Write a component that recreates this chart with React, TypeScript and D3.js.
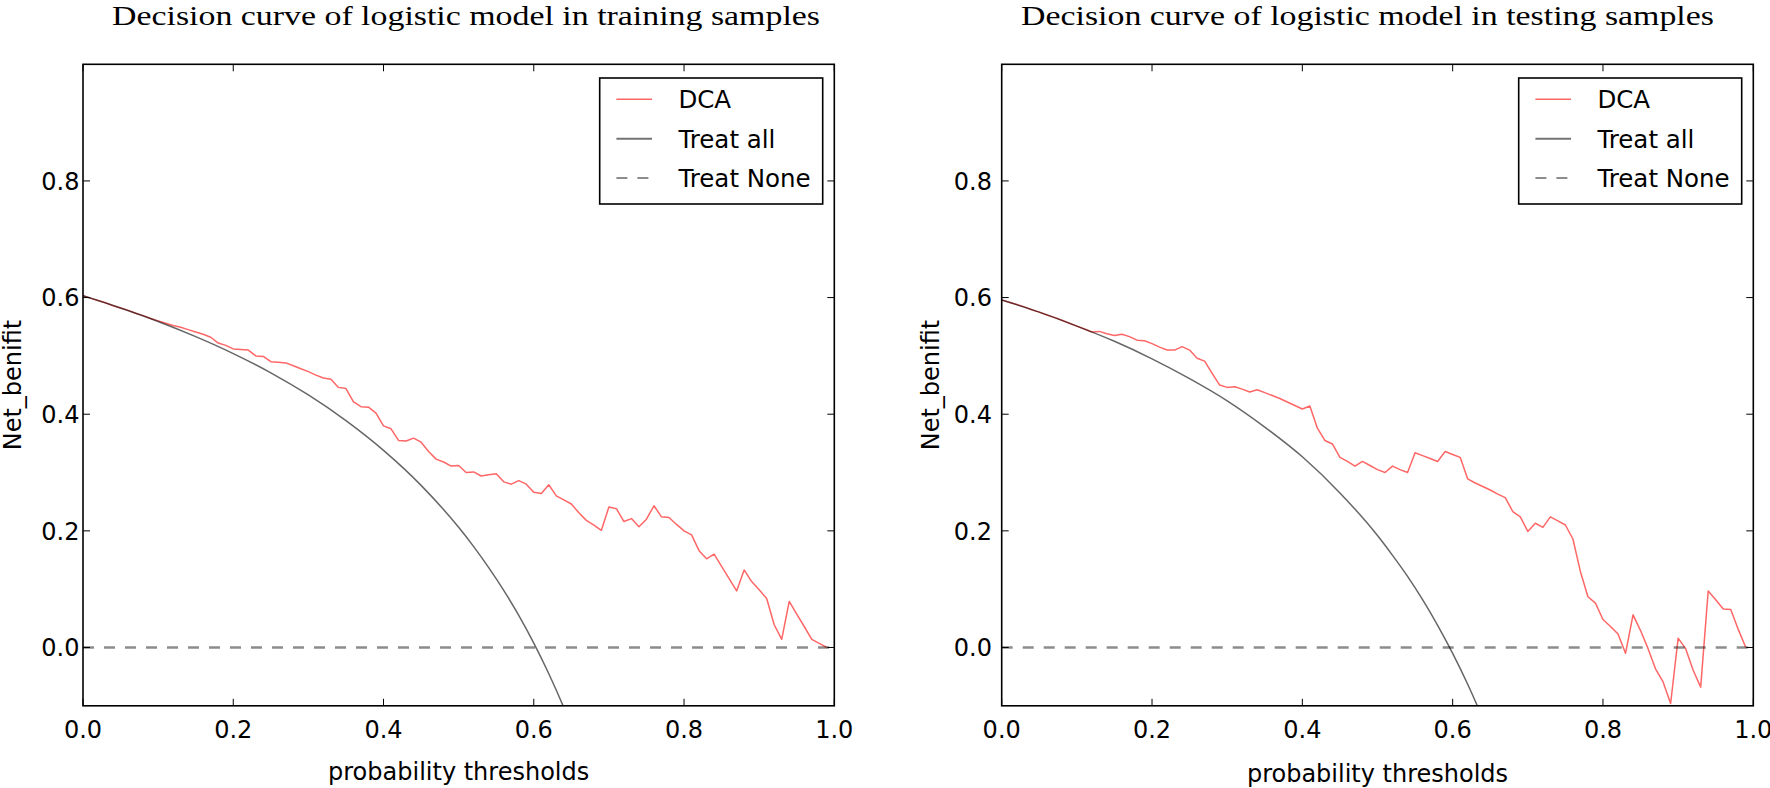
import React from "react";
import * as d3 from "d3";

// ---------- data ----------
const thresholds = [
  0.0, 0.01, 0.02, 0.03, 0.04, 0.05, 0.06, 0.07, 0.08, 0.09,
  0.1, 0.11, 0.12, 0.13, 0.14, 0.15, 0.16, 0.17, 0.18, 0.19,
  0.2, 0.21, 0.22, 0.23, 0.24, 0.25, 0.26, 0.27, 0.28, 0.29,
  0.3, 0.31, 0.32, 0.33, 0.34, 0.35, 0.36, 0.37, 0.38, 0.39,
  0.4, 0.41, 0.42, 0.43, 0.44, 0.45, 0.46, 0.47, 0.48, 0.49,
  0.5, 0.51, 0.52, 0.53, 0.54, 0.55, 0.56, 0.57, 0.58, 0.59,
  0.6, 0.61, 0.62, 0.63, 0.64, 0.65, 0.66, 0.67, 0.68, 0.69,
  0.7, 0.71, 0.72, 0.73, 0.74, 0.75, 0.76, 0.77, 0.78, 0.79,
  0.8, 0.81, 0.82, 0.83, 0.84, 0.85, 0.86, 0.87, 0.88, 0.89,
  0.9, 0.91, 0.92, 0.93, 0.94, 0.95, 0.96, 0.97, 0.98, 0.99,
];

const trainDCA = [
  0.603, 0.599, 0.595, 0.591, 0.586, 0.582, 0.578, 0.573, 0.569, 0.564,
  0.560, 0.556, 0.552, 0.549, 0.545, 0.541, 0.537, 0.532, 0.522, 0.518,
  0.512, 0.511, 0.510, 0.500, 0.499, 0.490, 0.489, 0.488, 0.483, 0.478,
  0.473, 0.467, 0.462, 0.460, 0.446, 0.444, 0.421, 0.413, 0.412, 0.402,
  0.380, 0.375, 0.355, 0.354, 0.359, 0.352, 0.336, 0.323, 0.318, 0.311,
  0.312, 0.300, 0.301, 0.294, 0.296, 0.298, 0.284, 0.280, 0.286, 0.280,
  0.266, 0.264, 0.279, 0.260, 0.253, 0.246, 0.231, 0.218, 0.210, 0.201,
  0.241, 0.238, 0.216, 0.221, 0.207, 0.220, 0.243, 0.224, 0.223, 0.211,
  0.200, 0.193, 0.166, 0.152, 0.160, 0.139, 0.118, 0.097, 0.133, 0.113,
  0.099, 0.084, 0.039, 0.014, 0.079, 0.057, 0.036, 0.014, 0.007, 0.0,
];

const testDCA = [
  0.596, 0.592, 0.588, 0.584, 0.579, 0.575, 0.570, 0.566, 0.561, 0.556,
  0.551, 0.546, 0.541, 0.542, 0.538, 0.535, 0.537, 0.533, 0.527, 0.526,
  0.521, 0.515, 0.510, 0.510, 0.516, 0.510, 0.496, 0.491, 0.470, 0.450,
  0.446, 0.447, 0.443, 0.438, 0.442, 0.437, 0.432, 0.427, 0.421, 0.415,
  0.409, 0.414, 0.376, 0.355, 0.349, 0.326, 0.319, 0.311, 0.319, 0.312,
  0.305, 0.300, 0.311, 0.305, 0.300, 0.334, 0.329, 0.324, 0.319, 0.336,
  0.331, 0.326, 0.289, 0.282, 0.276, 0.270, 0.263, 0.257, 0.233, 0.224,
  0.199, 0.213, 0.206, 0.224, 0.217, 0.210, 0.186, 0.130, 0.087, 0.076,
  0.048, 0.036, 0.023, -0.010, 0.056, 0.029, -0.002, -0.037, -0.059, -0.096,
  0.016, -0.002, -0.039, -0.068, 0.097, 0.082, 0.066, 0.065, 0.031, 0.0,
];

const treatAllThresholds = [
  0.0, 0.05, 0.1, 0.15, 0.2, 0.25, 0.3, 0.35, 0.4, 0.45, 0.5,
  0.52, 0.54, 0.56, 0.58, 0.6, 0.62, 0.64, 0.66,
];
const trainTreatAll = [
  0.603, 0.582, 0.559, 0.533, 0.504, 0.471, 0.433, 0.389, 0.338, 0.278, 0.206,
  0.173, 0.137, 0.098, 0.055, 0.0075, -0.045, -0.103, -0.168,
];
const testTreatAll = [
  0.596, 0.575, 0.551, 0.525, 0.495, 0.461, 0.423, 0.378, 0.327, 0.265, 0.192,
  0.158, 0.122, 0.082, 0.038, -0.010, -0.063, -0.122, -0.188,
];

const xTicks = [0.0, 0.2, 0.4, 0.6, 0.8, 1.0];
const yTicks = [0.0, 0.2, 0.4, 0.6, 0.8];
const legendLabels = ["DCA", "Treat all", "Treat None"];
const panelTitles = [
  "Decision curve of logistic model in training samples",
  "Decision curve of logistic model in testing samples",
];
const xLabel = "probability thresholds";
const yLabel = "Net_benifit";

// ---------- layout ----------
const W = 1770;
const H = 788;
const SANS = "'DejaVu Sans', sans-serif";
const SERIF = "'Liberation Serif', 'DejaVu Serif', serif";
const FS = 24;

type PanelProps = {
  id: string;
  x0: number;
  x1: number;
  title: string;
  titleX0: number;
  titleX1: number;
  tickGap: number;
  xLabelY: number;
  yLabelX: number;
  dca: number[];
  treatAll: number[];
};

function Panel(p: PanelProps) {
  const y0 = 64.3;
  const y1 = 705.8;
  const x = d3.scaleLinear().domain([0, 1]).range([p.x0, p.x1]);
  const y = d3.scaleLinear().domain([-0.1, 1.0]).range([y1, y0]);

  const dcaLine = d3
    .line<number>()
    .x((_, i) => x(thresholds[i]))
    .y((d) => y(d));
  const allLine = d3
    .line<number>()
    .x((_, i) => x(treatAllThresholds[i]))
    .y((d) => y(d))
    .curve(d3.curveMonotoneX);

  const tick = 7;
  const legW = 223;
  const legX1 = p.x1 - 11.6;
  const legX0 = legX1 - legW;
  const legY0 = 78;
  const legY1 = 204;
  const rows = [99.3, 138.7, 178];

  return (
    <g>
      <defs>
        <clipPath id={`clip-${p.id}`}>
          <rect x={p.x0} y={y0} width={p.x1 - p.x0} height={y1 - y0} />
        </clipPath>
      </defs>
      <text
        x={(p.titleX0 + p.titleX1) / 2}
        y={25}
        textAnchor="middle"
        fontFamily={SERIF}
        fontSize={27.5}
        textLength={p.titleX1 - p.titleX0}
        lengthAdjust="spacingAndGlyphs"
        fill="#000"
      >
        {p.title}
      </text>

      <g clipPath={`url(#clip-${p.id})`}>
        <path
          d={dcaLine(p.dca) || ""}
          fill="none"
          stroke="red"
          strokeOpacity={0.6}
          strokeWidth={1.5}
          strokeLinejoin="round"
        />
        <path
          d={allLine(p.treatAll) || ""}
          fill="none"
          stroke="black"
          strokeOpacity={0.6}
          strokeWidth={1.5}
        />
        <line
          x1={x(0)}
          x2={x(1)}
          y1={y(0)}
          y2={y(0)}
          stroke="black"
          strokeOpacity={0.45}
          strokeWidth={2.5}
          strokeDasharray="11 10"
        />
      </g>

      {/* frame */}
      <rect
        x={p.x0}
        y={y0}
        width={p.x1 - p.x0}
        height={y1 - y0}
        fill="none"
        stroke="#000"
        strokeWidth={1.6}
      />

      {/* ticks */}
      {xTicks.map((t) => (
        <g key={`xt${t}`}>
          <line x1={x(t)} x2={x(t)} y1={y1} y2={y1 - tick} stroke="#000" strokeWidth={1} />
          <line x1={x(t)} x2={x(t)} y1={y0} y2={y0 + tick} stroke="#000" strokeWidth={1} />
          <text
            x={x(t)}
            y={738}
            textAnchor="middle"
            fontFamily={SANS}
            fontSize={FS}
            fill="#000"
          >
            {t.toFixed(1)}
          </text>
        </g>
      ))}
      {yTicks.map((t) => (
        <g key={`yt${t}`}>
          <line x1={p.x0} x2={p.x0 + tick} y1={y(t)} y2={y(t)} stroke="#000" strokeWidth={1} />
          <line x1={p.x1} x2={p.x1 - tick} y1={y(t)} y2={y(t)} stroke="#000" strokeWidth={1} />
          <text
            x={p.x0 - p.tickGap}
            y={y(t) + 8.7}
            textAnchor="end"
            fontFamily={SANS}
            fontSize={FS}
            fill="#000"
          >
            {t.toFixed(1)}
          </text>
        </g>
      ))}

      {/* axis labels */}
      <text
        x={(p.x0 + p.x1) / 2}
        y={p.xLabelY}
        textAnchor="middle"
        fontFamily={SANS}
        fontSize={FS}
        fill="#000"
      >
        {xLabel}
      </text>
      <text
        transform={`translate(${p.yLabelX},${(y0 + y1) / 2}) rotate(-90)`}
        textAnchor="middle"
        fontFamily={SANS}
        fontSize={FS}
        fill="#000"
      >
        {yLabel}
      </text>

      {/* legend */}
      <rect
        x={legX0}
        y={legY0}
        width={legW}
        height={legY1 - legY0}
        fill="#fff"
        stroke="#000"
        strokeWidth={1.6}
      />
      {legendLabels.map((lab, i) => {
        const ry = rows[i];
        const lx0 = legX0 + 16.7;
        const lx1 = legX0 + 52.3;
        let line;
        if (i === 0) {
          line = <line x1={lx0} x2={lx1} y1={ry} y2={ry} stroke="red" strokeOpacity={0.6} strokeWidth={1.5} />;
        } else if (i === 1) {
          line = <line x1={lx0} x2={lx1} y1={ry} y2={ry} stroke="black" strokeOpacity={0.55} strokeWidth={2} />;
        } else {
          line = (
            <line
              x1={lx0}
              x2={lx1}
              y1={ry}
              y2={ry}
              stroke="black"
              strokeOpacity={0.45}
              strokeWidth={2}
              strokeDasharray="11 10"
            />
          );
        }
        return (
          <g key={lab}>
            {line}
            <text x={legX0 + 78.7} y={ry + 8.9} fontFamily={SANS} fontSize={24.5} fill="#000">
              {lab}
            </text>
          </g>
        );
      })}
    </g>
  );
}

export default function App() {
  return (
    <svg
      width={W}
      height={H}
      viewBox={`0 0 ${W} ${H}`}
      style={{ position: "absolute", left: 0, top: 0, display: "block", background: "#fff" }}
    >
      <rect x={0} y={0} width={W} height={H} fill="#fff" />
      <Panel
        id="train"
        x0={83}
        x1={834.3}
        title={panelTitles[0]}
        titleX0={112}
        titleX1={820}
        tickGap={3.5}
        xLabelY={780}
        yLabelX={21}
        dca={trainDCA}
        treatAll={trainTreatAll}
      />
      <Panel
        id="test"
        x0={1001.7}
        x1={1753.3}
        title={panelTitles[1]}
        titleX0={1021}
        titleX1={1714}
        tickGap={9.7}
        xLabelY={782}
        yLabelX={939}
        dca={testDCA}
        treatAll={testTreatAll}
      />
    </svg>
  );
}
